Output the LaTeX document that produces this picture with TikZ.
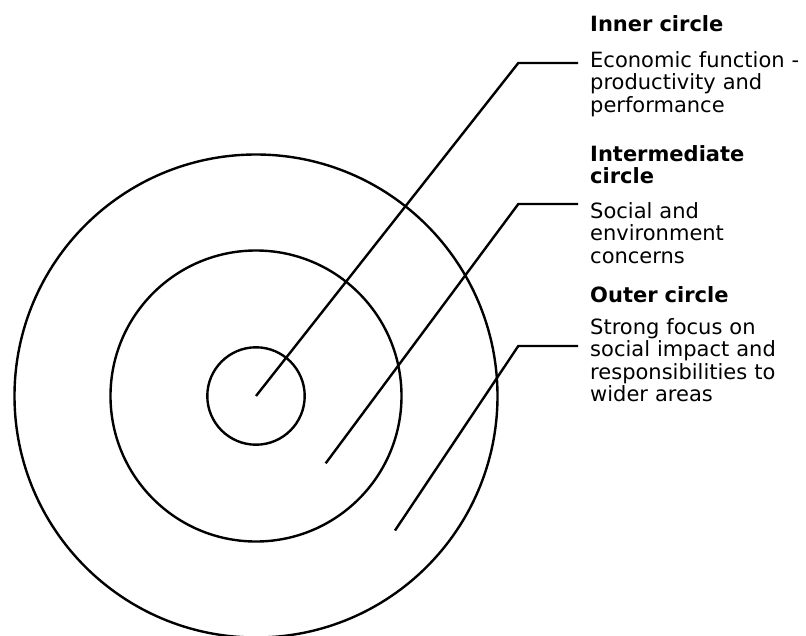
\documentclass[tikz,border=0pt]{standalone}
\usepackage{fontspec}
\setmainfont{DejaVu Sans}
\begin{document}
\begin{tikzpicture}[x=1pt,y=-1pt,
  ring/.style={circle, draw=black, line width=2.4pt, inner sep=0pt},
  lead/.style={draw=black, line width=2.4pt},
  head/.style={anchor=base west, inner sep=0pt, text width=216pt, align=left,
    font=\bfseries\fontsize{21}{22}\selectfont},
  body/.style={anchor=base west, inner sep=0pt, text width=216pt, align=left,
    font=\fontsize{21}{22.5}\selectfont}]
\useasboundingbox (0,0) rectangle (806,635);
\coordinate (c) at (256,396);
\node[ring, minimum size=97.4pt] (inner) at (c) {};
\node[ring, minimum size=291pt] (mid) at (c) {};
\node[ring, minimum size=483pt] (outer) at (c) {};
% connectors
\coordinate (p1) at (256,396);
\coordinate (k1) at (518.3,63);
\coordinate (e1) at (578,63);
\coordinate (p2) at (325.7,463.3);
\coordinate (k2) at (518.3,204);
\coordinate (e2) at (578,204);
\coordinate (p3) at (395,530.5);
\coordinate (k3) at (518.3,346);
\coordinate (e3) at (578,346);
\draw[lead] (p1) -- (k1) -- (e1);
\draw[lead] (p2) -- (k2) -- (e2);
\draw[lead] (p3) -- (k3) -- (e3);
% texts
\node[head] (h1) at (590,31) {Inner circle};
\node[body] (b1) at (590,67) {Economic function -\\productivity and\\performance};
\node[head] (h2) at (590,161.5) {Intermediate\\circle};
\node[body] (b2) at (590,218) {Social and\\environment\\concerns};
\node[head] (h3) at (590,302) {Outer circle};
\node[body] (b3) at (590,334) {Strong focus on\\social impact and\\responsibilities to\\wider areas};
\end{tikzpicture}
\end{document}
